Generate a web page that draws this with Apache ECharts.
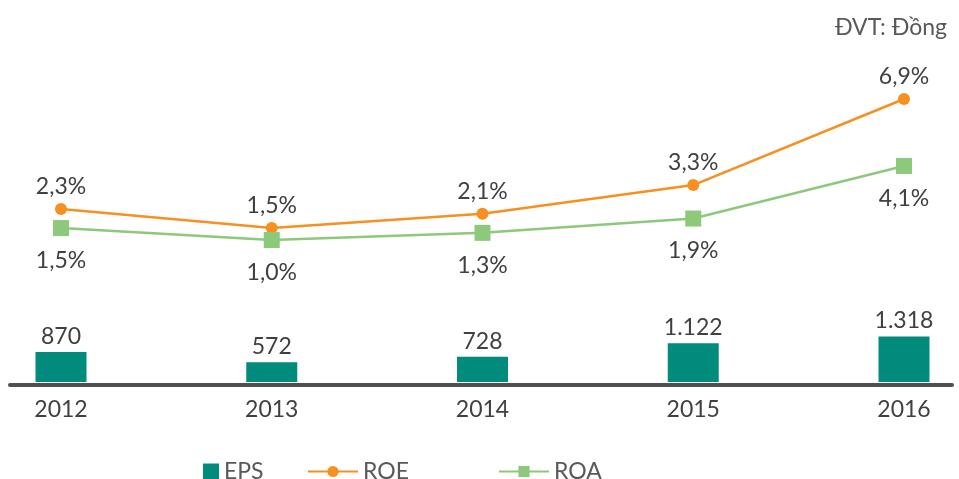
<!DOCTYPE html>
<html>
<head>
<meta charset="utf-8">
<script src="https://cdn.jsdelivr.net/npm/echarts@6/dist/echarts.min.js"></script>
<style>
html,body{margin:0;padding:0;background:#fff;}
#c{width:959px;height:479px;}
</style>
</head>
<body>
<div id="c"></div>
<script>
var years = ['2012', '2013', '2014', '2015', '2016'];
var eps = [870, 572, 728, 1122, 1318];
var roe = [2.3, 1.5, 2.1, 3.3, 6.9];
var roa = [1.5, 1.0, 1.3, 1.9, 4.1];
var unitText = 'ĐVT: Đồng';

var FONT = 'Lato';
var TXT = '#404040';
function pct(p) { return p.value.toFixed(1).replace('.', ',') + '%'; }
function num(p) { return String(p.value).replace(/\B(?=(\d{3})+(?!\d))/g, '.'); }

var chart = echarts.init(document.getElementById('c'));
chart.setOption({
  animation: false,
  textStyle: { fontFamily: FONT },
  title: {
    text: unitText, right: 7, top: 11,
    textStyle: { fontFamily: FONT, fontSize: 23, fontWeight: 'normal', color: '#595959' }
  },
  legend: [
    { data: ['EPS'], left: 198, top: 455, icon: 'rect', itemWidth: 16, itemHeight: 16, itemGap: 8,
      textStyle: { fontFamily: FONT, fontSize: 23, color: '#595959' } },
    { data: ['ROE'], left: 302, top: 455, itemWidth: 50, itemHeight: 14, itemGap: 8,
      textStyle: { fontFamily: FONT, fontSize: 23, color: '#595959' } },
    { data: ['ROA'], left: 493, top: 455, itemWidth: 50, itemHeight: 14, itemGap: 8,
      textStyle: { fontFamily: FONT, fontSize: 23, color: '#595959' } }
  ],
  grid: [
    { left: 61, right: 55, top: 40, bottom: 97 },
    { left: 10, right: 7, top: 40, bottom: 94 }
  ],
  xAxis: [
    { type: 'category', data: years, gridIndex: 0, boundaryGap: false,
      axisLine: { show: false }, axisTick: { show: false },
      axisLabel: { fontFamily: FONT, fontSize: 23, color: TXT, margin: 16 } },
    { type: 'value', gridIndex: 1, min: 0, max: 1,
      axisLine: { show: true, lineStyle: { color: '#505050', width: 4 } },
      axisTick: { show: false }, axisLabel: { show: false }, splitLine: { show: false } }
  ],
  yAxis: [
    { type: 'value', gridIndex: 0, min: 0, max: 9900, show: false, splitLine: { show: false } },
    { type: 'value', gridIndex: 0, min: -4.94, max: 9.37, show: false, splitLine: { show: false } },
    { type: 'value', gridIndex: 1, min: 0, max: 1, show: false, splitLine: { show: false } }
  ],
  series: [
    { name: 'EPS', type: 'bar', xAxisIndex: 0, yAxisIndex: 0, data: eps, barWidth: 51,
      itemStyle: { color: '#008B7D' },
      label: { show: true, position: 'top', distance: 4, formatter: num,
        fontFamily: FONT, fontSize: 23, color: TXT } },
    { name: 'ROE', type: 'line', xAxisIndex: 0, yAxisIndex: 1, data: roe,
      symbol: 'circle', symbolSize: 12,
      lineStyle: { color: '#F7901E', width: 2.5 }, itemStyle: { color: '#F7901E' },
      label: { show: true, position: 'top', distance: 5, formatter: pct,
        fontFamily: FONT, fontSize: 23, color: TXT } },
    { name: 'ROA', type: 'line', xAxisIndex: 0, yAxisIndex: 1, data: roa,
      symbol: 'rect', symbolSize: 16,
      lineStyle: { color: '#8CC97A', width: 2.5 }, itemStyle: { color: '#8CC97A' },
      label: { show: true, position: 'bottom', distance: 13, formatter: pct,
        fontFamily: FONT, fontSize: 23, color: TXT } }
  ]
});
</script>
</body>
</html>
